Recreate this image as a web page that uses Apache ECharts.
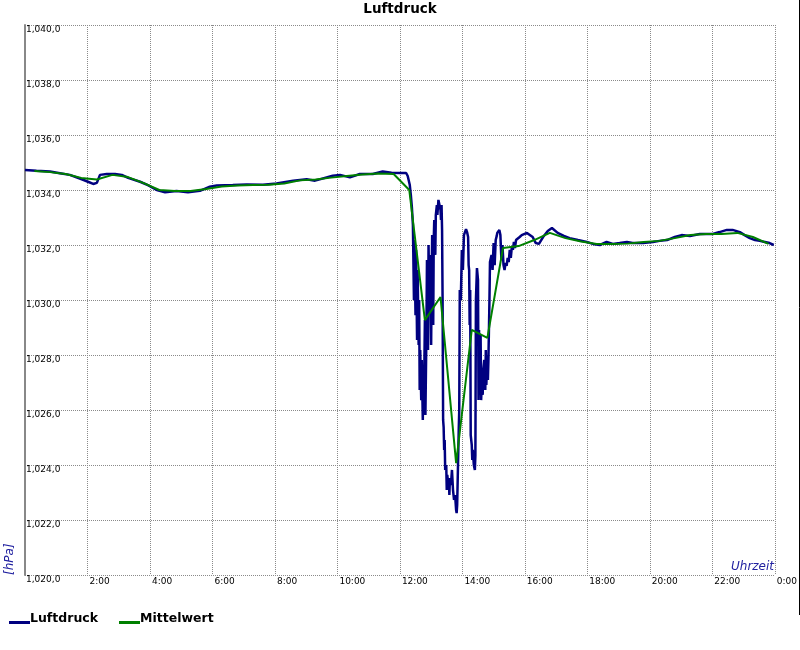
<!DOCTYPE html>
<html>
<head>
<meta charset="utf-8">
<script src="https://cdn.jsdelivr.net/npm/echarts@6/dist/echarts.min.js"></script>
<style>
html,body{margin:0;padding:0;background:#fff;}
#chart{width:800px;height:650px;}
</style>
</head>
<body>
<div id="chart"></div>
<script>
// Luftdruck (raw), time in minutes since midnight
var luftTimes = [0,22,48,67,86,109,121,131,134,138,144,157,173,186,198,221,236,253,269,291,313,336,355,368,399,426,457,483,515,541,557,591,605,624,643,668,687,704,720,732,
735,739,741,743,745,747,748,750,751,753,754,756,757,758,759,761,762,764,765,766,768,769,771,772,774,775,777,778,780,781,782,784,785,786,788,789,791,792,794,796,798,799,800,801,802,803,804,805,806,807,809,810,811,813,814,815,816,818,820,822,824,826,828,829,830,831,833,834,835,837,839,841,843,845,847,849,851,852,853,854,855,856,858,859,860,862,864,865,866,868,870,871,872,874,875,876,878,879,880,882,884,885,886,888,889,890,892,893,894,896,898,900,902,904,906,907,909,911,913,915,917,919,921,923,925,927,929,931,933,935,937,939,941,943,946,950,954,
964,975,981,987,995,1004,1012,1023,1035,1046,1062,1079,1091,1104,1117,1129,1142,1156,1167,1187,1206,1219,1233,1248,1261,1277,1296,1309,1321,1334,1348,1359,1373,1382,1392,1402,1411,1421,1430,1438];
var luftValues = [1034.73,1034.70,1034.67,1034.61,1034.55,1034.39,1034.30,1034.22,1034.18,1034.26,1034.55,1034.58,1034.58,1034.55,1034.44,1034.30,1034.18,1034.00,1033.92,1033.96,1033.92,1033.97,1034.12,1034.16,1034.18,1034.20,1034.19,1034.24,1034.34,1034.39,1034.34,1034.52,1034.55,1034.46,1034.58,1034.58,1034.67,1034.63,1034.62,1034.62,
1034.51,1034.18,1033.82,1033.38,1032.73,1030.00,1032.18,1029.45,1031.82,1028.55,1031.09,1028.36,1030.00,1026.73,1028.18,1026.36,1027.82,1025.64,1027.09,1026.00,1029.27,1025.82,1028.91,1031.45,1028.18,1032.00,1029.64,1031.64,1028.36,1030.73,1032.36,1029.09,1032.18,1032.91,1031.64,1033.09,1033.45,1033.09,1033.64,1033.71,1033.27,1032.91,1033.45,1032.55,1030.00,1025.64,1025.38,1024.55,1024.91,1023.82,1024.00,1023.09,1023.64,1023.27,1023.53,1022.91,1023.45,1023.27,1023.82,1023.09,1022.73,1022.91,1022.36,1022.25,1022.55,1023.45,1025.27,1026.00,1030.36,1030.00,1031.82,1031.09,1032.36,1032.47,1032.58,1032.47,1032.29,1031.27,1031.09,1029.09,1030.36,1025.09,1024.73,1024.18,1024.55,1024.00,1023.82,1024.36,1030.00,1031.16,1030.73,1026.36,1028.91,1026.55,1028.73,1026.36,1027.27,1026.55,1027.45,1027.82,1026.73,1028.18,1026.91,1028.00,1027.09,1027.82,1030.00,1031.38,1031.45,1031.64,1031.09,1032.07,1031.27,1032.18,1032.33,1032.44,1032.47,1032.55,1032.36,1031.45,1032.00,1031.27,1031.09,1031.35,1031.24,1031.53,1031.38,1031.82,1031.53,1031.93,1031.82,1032.11,1031.89,1032.18,1032.25,1032.29,1032.36,
1032.44,1032.29,1032.07,1032.04,1032.29,1032.51,1032.62,1032.44,1032.33,1032.25,1032.18,1032.11,1032.04,1032.00,1032.11,1032.04,1032.07,1032.11,1032.07,1032.07,1032.11,1032.15,1032.18,1032.29,1032.36,1032.33,1032.40,1032.40,1032.40,1032.47,1032.55,1032.55,1032.47,1032.36,1032.25,1032.18,1032.15,1032.11,1032.07,1032.00];

// Mittelwert (half-hour means)
var mittelTimes = [18,48,78,108,138,168,198,228,258,288,318,348,378,408,438,468,498,528,558,588,618,648,678,708,738,768,798,828,858,888,918,948,978,1008,1038,1068,1098,1128,1158,1188,1218,1248,1278,1308,1338,1368,1398,1428];
var mittelValues = [1034.69,1034.65,1034.58,1034.44,1034.38,1034.55,1034.47,1034.25,1034.00,1033.96,1033.96,1034.04,1034.13,1034.16,1034.18,1034.19,1034.24,1034.35,1034.38,1034.45,1034.51,1034.56,1034.60,1034.58,1034.00,1029.27,1030.11,1024.07,1028.91,1028.62,1031.89,1031.96,1032.18,1032.44,1032.25,1032.13,1032.04,1032.04,1032.05,1032.11,1032.15,1032.25,1032.36,1032.40,1032.40,1032.44,1032.29,1032.04];

var seriesNames = ['Luftdruck','Mittelwert'];
var yMin = 1020, yMax = 1040, yStep = 2;
var xMin = 0, xMax = 1440, xStep = 120;

function zip(a, b){ var r=[]; for(var i=0;i<a.length;i++) r.push([a[i], b[i]]); return r; }
function fmtY(v){ return '1,0' + String(Math.round(v) - 1000).padStart(2,'0') + ',0'; }
function fmtX(v){ if (v === 0) return ''; return ((v/60) % 24) + ':00'; }

var font = 'DejaVu Sans';
var chart = echarts.init(document.getElementById('chart'), null, {renderer:'canvas'});
var grid = '#8a8a8a';
chart.setOption({
  animation: false,
  backgroundColor: '#ffffff',
  title: {
    text: 'Luftdruck', left: 'center', top: -3,
    textStyle: {fontFamily: font, fontSize: 13.5, fontWeight: 'bold', color: '#000'}
  },
  legend: {
    left: 9, top: 612, padding: 0, itemGap: 21, itemWidth: 21, itemHeight: 11,
    data: [
      {name: seriesNames[0], icon: 'path://M0,0 M0,8 L21,8 L21,11 L0,11 Z'},
      {name: seriesNames[1], icon: 'path://M0,0 M0,8 L21,8 L21,11 L0,11 Z'}
    ],
    textStyle: {fontFamily: font, fontSize: 12.5, fontWeight: 'bold', color: '#000', padding: [0,0,0,-5]}
  },
  grid: {left: 25, right: 25, top: 25, bottom: 75, containLabel: false},
  xAxis: {
    type: 'value', min: xMin, max: xMax, interval: xStep,
    axisLine: {show: false}, axisTick: {show: false},
    axisLabel: {formatter: fmtX, align: 'left', margin: 2, padding: [0,0,0,2], fontFamily: font, fontSize: 9, color: '#000', showMaxLabel: true, showMinLabel: true},
    splitLine: {show: true, lineStyle: {color: grid, width: 1, type: [1,1]}}
  },
  yAxis: {
    type: 'value', min: yMin, max: yMax, interval: yStep,
    axisLine: {show: true, onZero: false, lineStyle: {color: '#888', width: 2}},
    axisTick: {show: false},
    axisLabel: {inside: true, margin: 1, verticalAlign: 'top', formatter: fmtY, fontFamily: font, fontSize: 9, color: '#000', showMaxLabel: true, showMinLabel: true},
    splitLine: {show: true, lineStyle: {color: grid, width: 1, type: [1,1]}}
  },
  series: [
    {name: seriesNames[0], type: 'line', data: zip(luftTimes, luftValues), showSymbol: false, symbol: 'none',
     lineStyle: {color: '#000080', width: 2.5}, itemStyle: {color: '#000080'}, z: 2},
    {name: seriesNames[1], type: 'line', data: zip(mittelTimes, mittelValues), showSymbol: false, symbol: 'none',
     lineStyle: {color: '#008000', width: 2}, itemStyle: {color: '#008000'}, z: 3}
  ],
  graphic: [
    {type: 'text', left: 774 - 43, top: 561, style: {text: 'Uhrzeit', font: 'italic 12px "DejaVu Sans"', fill: '#2222a0'}},
    {type: 'text', x: 4, y: 575, rotation: Math.PI/2, style: {text: '[hPa]', font: 'italic 12px "DejaVu Sans"', fill: '#2222a0', align: 'left', verticalAlign: 'top'}},
    {type: 'line', shape: {x1: 799.5, y1: 0, x2: 799.5, y2: 615}, style: {stroke: '#000', lineWidth: 1}}
  ]
});
</script>
</body>
</html>
